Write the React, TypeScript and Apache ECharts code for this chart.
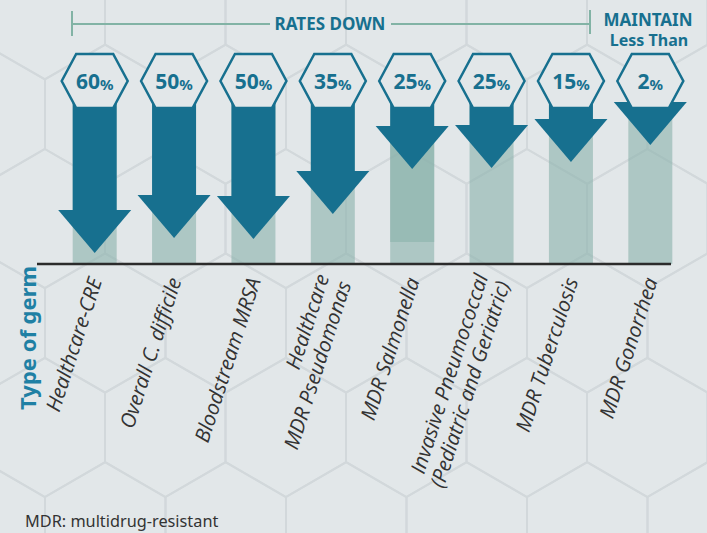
import React, { useEffect, useRef } from "react";
import * as echarts from "echarts";

const categories = [
  "Healthcare-CRE",
  "Overall C. difficile",
  "Bloodstream MRSA",
  "Healthcare\nMDR Pseudomonas",
  "MDR Salmonella",
  "Invasive Pneumococcal\n(Pediatric and Geriatric)",
  "MDR Tuberculosis",
  "MDR Gonorrhea",
];
const reductions = [60, 50, 50, 35, 25, 25, 15, 2];
// level (chart units) where each arrow's tip ends
const arrowTip = [5.5, 13, 12.5, 25, 47.5, 48, 51, 59.5];
// light background column behind each arrow
const trackTop = [82, 82, 82, 82, 82, 82, 82, 82];
// extra overlapping column segment (MDR Salmonella)
const bandBase = [null, null, null, null, 11, null, null, null];
const bandHeight = [null, null, null, null, 49.5, null, null, null];
const SHAFT_TOP = 82;
const HEX_LEVEL = 91.5;

const BG = "#e2e7e9";
const ARROW = "#17708f";
const BAR = "rgba(138,179,171,0.6)";
const PATTERN = "#d2d8db";

function hexPattern() {
  const w = 120.5;
  const s = 69.6;
  const els: any[] = [];
  for (let r = -4; r <= 3; r++) {
    const cy = 323 + 104.4 * r;
    const off = Math.abs(r) % 2 === 0 ? 105.25 : 44.75;
    for (let k = -2; k <= 7; k++) {
      const cx = off + w * k;
      els.push({
        type: "polygon",
        shape: {
          points: [
            [cx, cy - s],
            [cx + w / 2, cy - s / 2],
            [cx + w / 2, cy + s / 2],
            [cx, cy + s],
            [cx - w / 2, cy + s / 2],
            [cx - w / 2, cy - s / 2],
          ],
        },
        style: { fill: "none", stroke: PATTERN, lineWidth: 2 },
        silent: true,
      });
    }
  }
  return els;
}

export default function App() {
  const ref = useRef<HTMLDivElement>(null);
  useEffect(() => {
    const chart = echarts.init(ref.current!, null, { renderer: "svg" });
    const option: any = {
      animation: false,
      backgroundColor: BG,
      grid: { left: 55, right: 17, top: 64, bottom: 269, containLabel: false },
      xAxis: {
        type: "category",
        data: categories,
        axisLine: { show: false },
        axisTick: { show: false },
        axisLabel: {
          interval: 0,
          rotate: 72,
          margin: 14,
          fontFamily: "Open Sans",
          fontStyle: "italic",
          fontSize: 20.5,
          lineHeight: 23,
          color: "#333333",
        },
      },
      yAxis: { type: "value", min: 0, max: 100, show: false },
      graphic: [
        { type: "group", z: 0, silent: true, children: hexPattern() },
        {
          type: "line",
          z: 10,
          shape: { x1: 37, y1: 264, x2: 671, y2: 264 },
          style: { stroke: "#2b2b2b", lineWidth: 2.5 },
        },
        {
          type: "line",
          z: 10,
          shape: { x1: 72, y1: 24, x2: 270, y2: 24 },
          style: { stroke: "#82b3a5", lineWidth: 2 },
        },
        {
          type: "line",
          z: 10,
          shape: { x1: 391, y1: 24, x2: 590, y2: 24 },
          style: { stroke: "#82b3a5", lineWidth: 2 },
        },
        {
          type: "line",
          z: 10,
          shape: { x1: 72, y1: 11, x2: 72, y2: 36 },
          style: { stroke: "#82b3a5", lineWidth: 2 },
        },
        {
          type: "line",
          z: 10,
          shape: { x1: 590, y1: 10, x2: 590, y2: 34 },
          style: { stroke: "#82b3a5", lineWidth: 2 },
        },
        {
          type: "text",
          z: 10,
          x: 330,
          y: 23,
          style: {
            text: "RATES DOWN",
            align: "center",
            verticalAlign: "middle",
            fontFamily: "Noto Sans",
            fontWeight: "bold",
            fontSize: 17,
            lineHeight: 17,
            fill: ARROW,
          },
        },
        {
          type: "text",
          z: 10,
          x: 648,
          y: 19,
          style: {
            text: "MAINTAIN",
            align: "center",
            verticalAlign: "middle",
            fontFamily: "Noto Sans",
            fontWeight: "bold",
            fontSize: 17,
            lineHeight: 17,
            fill: ARROW,
          },
        },
        {
          type: "text",
          z: 10,
          x: 649,
          y: 40,
          style: {
            text: "Less Than",
            align: "center",
            verticalAlign: "middle",
            fontFamily: "Noto Sans",
            fontWeight: "bold",
            fontSize: 16,
            lineHeight: 16,
            fill: ARROW,
          },
        },
        {
          type: "text",
          z: 10,
          x: 27,
          y: 338,
          rotation: Math.PI / 2,
          style: {
            text: "Type of germ",
            align: "center",
            verticalAlign: "middle",
            fontFamily: "Noto Sans",
            fontWeight: "bold",
            fontSize: 22,
            fill: "#1f80a4",
          },
        },
        {
          type: "text",
          z: 10,
          x: 25,
          y: 521,
          style: {
            text: "MDR: multidrug-resistant",
            align: "left",
            verticalAlign: "middle",
            fontFamily: "Noto Sans",
            fontSize: 16.3,
            fill: "#333333",
          },
        },
      ],
      series: [
        {
          type: "bar",
          data: trackTop,
          barWidth: 44,
          barGap: "-100%",
          itemStyle: { color: BAR },
          z: 2,
        },
        {
          type: "bar",
          stack: "band",
          data: bandBase,
          barWidth: 44,
          barGap: "-100%",
          itemStyle: { color: "transparent" },
          z: 2,
        },
        {
          type: "bar",
          stack: "band",
          data: bandHeight,
          barWidth: 44,
          barGap: "-100%",
          itemStyle: { color: BAR },
          z: 2,
        },
        {
          type: "custom",
          z: 5,
          clip: false,
          data: categories.map((_, i) => [i, arrowTip[i], reductions[i]]),
          encode: { x: 0, y: 1 },
          renderItem: (params: any, api: any) => {
            const i = api.value(0);
            const tip = api.coord([i, api.value(1)]);
            const cx = tip[0];
            const tipY = tip[1];
            const topY = api.coord([i, SHAFT_TOP])[1];
            const hexY = api.coord([i, HEX_LEVEL])[1];
            const bw = api.size([1, 0])[0];
            const shaftHalf = bw * 0.277;
            const headHalf = bw * 0.46;
            const headH = 43;
            const headTop = tipY - headH;
            const hw = 33;
            const hh = 27;
            const he = 18.5;
            return {
              type: "group",
              children: [
                {
                  type: "rect",
                  shape: {
                    x: cx - shaftHalf,
                    y: topY,
                    width: shaftHalf * 2,
                    height: Math.max(0, headTop - topY + 1),
                  },
                  style: { fill: ARROW },
                },
                {
                  type: "polygon",
                  shape: {
                    points: [
                      [cx - headHalf, headTop],
                      [cx + headHalf, headTop],
                      [cx, tipY],
                    ],
                  },
                  style: { fill: ARROW },
                },
                {
                  type: "polygon",
                  shape: {
                    points: [
                      [cx - hw, hexY],
                      [cx - he, hexY - hh],
                      [cx + he, hexY - hh],
                      [cx + hw, hexY],
                      [cx + he, hexY + hh],
                      [cx - he, hexY + hh],
                    ],
                  },
                  style: { fill: BG, stroke: ARROW, lineWidth: 2.5 },
                },
                {
                  type: "text",
                  x: cx,
                  y: hexY,
                  style: {
                    text: `{n|${api.value(2)}}{p|%}`,
                    align: "center",
                    verticalAlign: "middle",
                    rich: {
                      n: {
                        fontFamily: "Noto Sans",
                        fontWeight: "bold",
                        fontSize: 21,
                        fill: ARROW,
                        verticalAlign: "bottom",
                      },
                      p: {
                        fontFamily: "Noto Sans",
                        fontWeight: "bold",
                        fontSize: 15,
                        fill: ARROW,
                        verticalAlign: "bottom",
                      },
                    },
                  },
                },
              ],
            };
          },
        },
      ],
    };
    chart.setOption(option);
    return () => chart.dispose();
  }, []);
  return (
    <div
      ref={ref}
      style={{ position: "fixed", left: 0, top: 0, width: 707, height: 533 }}
    />
  );
}
